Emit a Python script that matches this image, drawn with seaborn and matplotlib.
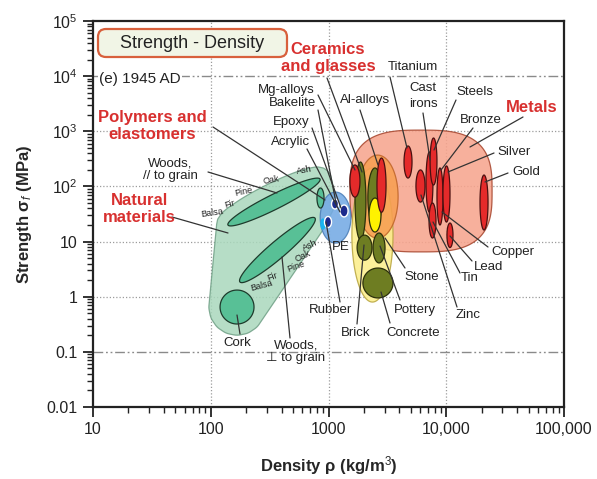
import numpy as np
import matplotlib
matplotlib.use("Agg")
import matplotlib.pyplot as plt
from matplotlib.patches import FancyBboxPatch
from matplotlib.ticker import NullFormatter
import seaborn as sns

# ---- values: density (kg/m^3) and strength (MPa) ranges ----
# family envelopes
env_names = ["Metals", "Non-technical ceramics", "Ceramics and glasses", "Polymers"]
env_rho = [(1520, 24500), (1580, 3530), (1750, 3900), (850, 1550)]
env_sig = [(6.5, 1050), (0.8, 216), (11.5, 370), (9.4, 79)]

# woods lie along a diagonal: two end points each
wood_names = ["Woods // grain", "Woods perp. grain"]
wood_start = [(140, 20), (177, 1.85)]
wood_end = [(847, 136), (767, 26.7)]

natural_names = ["Cork", "Bamboo"]
natural_rho = [(120, 233), (798, 916)]
natural_sig = [(0.32, 1.32), (40.6, 93.6)]

polymer_names = ["Rubber", "PE", "Bakelite", "Epoxy"]
polymer_rho = [(863, 933), (925, 1061), (1061, 1216), (1253, 1466)]
polymer_sig = [(16.9, 25.6), (18, 28.5), (39, 59), (28, 46)]

ceramic_names = ["Glass", "Porcelain", "Glass ceramic", "Brick", "Stone", "Concrete"]
ceramic_rho = [(1680, 2080), (2160, 2850), (2210, 2790), (1750, 2340), (2390, 3020), (1960, 3530)]
ceramic_sig = [(10.7, 277), (18.4, 216), (14.9, 61.6), (4.6, 13.1), (4.1, 14.3), (0.95, 3.31)]

metal_names = ["Mg-alloys", "Al-alloys", "Titanium", "Zinc", "Cast irons", "Steels",
               "Tin", "Bronze", "Silver", "Lead", "Gold"]
metal_rho = [(1520, 1850), (2580, 3080), (4380, 5120), (5530, 6600), (6730, 7710), (7290, 8340),
             (7140, 8180), (8340, 9380), (9380, 10760), (10140, 11410), (19350, 22630)]
metal_sig = [(64, 245), (34, 327), (142, 541), (52, 199), (34, 421), (106, 755),
             (11.6, 50), (20, 216), (22.6, 235), (7.8, 21.7), (16.2, 161)]

x_ticks = [10, 100, 1000, 1e4, 1e5]
x_labels = ["10", "100", "1000", "10,000", "100,000"]
y_ticks = [0.01, 0.1, 1, 10, 100, 1e3, 1e4, 1e5]
y_labels = ["0.01", "0.1", "1", "10", "$10^2$", "$10^3$", "$10^4$", "$10^5$"]

# ---- layout (pixels of the 597x479 canvas) ----
W, H = 597, 479
AX_L, AX_T, AX_R, AX_B = 93, 21, 564, 407

sns.set_theme(style="white")
plt.rcParams["font.family"] = ["Liberation Sans", "DejaVu Sans"]
plt.rcParams["mathtext.fontset"] = "custom"
plt.rcParams["mathtext.rm"] = "Liberation Sans"
plt.rcParams["mathtext.it"] = "Liberation Sans:italic"
plt.rcParams["mathtext.bf"] = "Liberation Sans:bold"

fig = plt.figure(figsize=(W / 100, H / 100), dpi=100)
ax = fig.add_axes([AX_L / W, 1 - AX_B / H, (AX_R - AX_L) / W, (AX_B - AX_T) / H])
ax.set_xscale("log")
ax.set_yscale("log")
ax.set_xlim(10, 1e5)
ax.set_ylim(0.01, 1e5)

# a decade of strength vs a decade of density on screen
Q = ((AX_B - AX_T) / 7) / ((AX_R - AX_L) / 4)
T = np.linspace(0, 2 * np.pi, 240)


def to_data(pts):
    return 10 ** pts[:, 0], 10 ** (pts[:, 1] / Q)


def box_pts(rho, sig, p=2.0):
    lx, ly = np.log10(rho), Q * np.log10(sig)
    cx, rx = lx.mean(), (lx[1] - lx[0]) / 2
    cy, ry = ly.mean(), (ly[1] - ly[0]) / 2
    c, s = np.cos(T), np.sin(T)
    x = cx + rx * np.sign(c) * np.abs(c) ** (2 / p)
    y = cy + ry * np.sign(s) * np.abs(s) ** (2 / p)
    return np.column_stack([x, y])


def diag_pts(p0, p1, width):
    a = np.array([np.log10(p0[0]), Q * np.log10(p0[1])])
    b = np.array([np.log10(p1[0]), Q * np.log10(p1[1])])
    c, u = (a + b) / 2, (b - a) / 2
    n = np.array([-u[1], u[0]])
    n = n / np.hypot(*n) * width / 2
    return c + np.cos(T)[:, None] * u + np.sin(T)[:, None] * n


def hull_pts(shapes, margin):
    ang = np.linspace(0, 2 * np.pi, 16, endpoint=False)
    ring = margin * np.column_stack([np.cos(ang), np.sin(ang)])
    pts = np.vstack([s[::4, None, :] + ring[None] for s in shapes]).reshape(-1, 2)
    pts = sorted(map(tuple, np.round(pts, 5)))

    def cross(o, a, b):
        return (a[0] - o[0]) * (b[1] - o[1]) - (a[1] - o[1]) * (b[0] - o[0])

    lower, upper = [], []
    for p in pts:
        while len(lower) >= 2 and cross(lower[-2], lower[-1], p) <= 0:
            lower.pop()
        lower.append(p)
    for p in reversed(pts):
        while len(upper) >= 2 and cross(upper[-2], upper[-1], p) <= 0:
            upper.pop()
        upper.append(p)
    return np.array(lower[:-1] + upper[:-1])


def cv(px, py):
    return (px - AX_L) / (AX_R - AX_L), (AX_B - py) / (AX_B - AX_T)


# grid
for v in [100, 1000, 1e4]:
    ax.axvline(v, color="#9c9c9c", lw=0.9, dashes=(1, 1.6), zorder=0.5)
for v in [1, 10, 100, 1000]:
    ax.axhline(v, color="#9c9c9c", lw=0.9, dashes=(1, 1.6), zorder=0.5)
for v in [0.1, 1e4]:
    ax.axhline(v, color="#8a8a8a", lw=1.0, dashes=(7, 2, 1.3, 2, 1.3, 2), zorder=0.5)

# envelopes
env_style = {"Metals": ("#f7a58e", "#a8472f", 3.0, 1.0),
             "Non-technical ceramics": ("#fcef8c", "#b9a640", 2.0, 1.2),
             "Ceramics and glasses": ("#f79f52", "#c0652a", 2.0, 1.3),
             "Polymers": ("#74aae4", "#4d7fb8", 2.0, 2.0)}
for name, r, s in zip(env_names, env_rho, env_sig):
    fc, ec, p, z = env_style[name]
    ax.fill(*to_data(box_pts(r, s, p)), fc=fc, ec=ec, lw=0.9, alpha=0.88, zorder=z)

wood_width = [0.127, 0.145]
natural_shapes = [diag_pts(p0, p1, w) for p0, p1, w in zip(wood_start, wood_end, wood_width)]
natural_shapes += [box_pts(r, s) for r, s in zip(natural_rho, natural_sig)]

# natural materials envelope drawn round its members
ax.fill(*to_data(hull_pts(natural_shapes, 0.095)), fc="#a9d8bc", ec="#6f9f85", lw=0.9,
        alpha=0.85, zorder=1)
for shp in natural_shapes:
    ax.fill(*to_data(shp), fc="#58c096", ec="#1e3b2c", lw=0.9, zorder=3)

for name, r, s in zip(polymer_names, polymer_rho, polymer_sig):
    fc = "#19b5f0" if name == "Rubber" else "#1c2a8c"
    ec = "#19b5f0" if name == "Rubber" else "white"
    ax.fill(*to_data(box_pts(r, s)), fc=fc, ec=ec, lw=1.0, zorder=3)

for name, r, s in zip(ceramic_names, ceramic_rho, ceramic_sig):
    fc = "#fff200" if name == "Glass ceramic" else "#6e7d22"
    ax.fill(*to_data(box_pts(r, s)), fc=fc, ec="#2b300a", lw=0.9, zorder=3)

for name, r, s in zip(metal_names, metal_rho, metal_sig):
    ax.fill(*to_data(box_pts(r, s)), fc="#e52a2a", ec="#4a1010", lw=0.9, zorder=3.2)

# labels and leader lines
RED = "#d8302f"
family_labels = [("Ceramics\nand glasses", 328, 58, (327, 78), (362, 172)),
                 ("Polymers and\nelastomers", 152, 126, (213, 127), (325, 200)),
                 ("Natural\nmaterials", 139, 209, (172, 217), (228, 233)),
                 ("Metals", 532, 107, (523, 117), (470, 147))]
mat_labels = [("Titanium", 413, 67, (390, 77), (407, 148)),
              ("Cast\nirons", 423, 96, (423, 113), (430, 160)),
              ("Steels", 475, 92, (456, 100), (434, 150)),
              ("Bronze", 481, 120, (473, 128), (441, 170)),
              ("Silver", 514, 152, (494, 153), (448, 172)),
              ("Gold", 526, 172, (508, 173), (485, 182)),
              ("Copper", 513, 252, (488, 247), (442, 212)),
              ("Lead", 489, 267, (472, 261), (450, 236)),
              ("Tin", 470, 278, (460, 273), (433, 222)),
              ("Zinc", 468, 315, (457, 307), (421, 195)),
              ("Stone", 422, 277, (405, 268), (385, 238)),
              ("Pottery", 415, 310, (400, 300), (380, 246)),
              ("Concrete", 413, 333, (390, 323), (381, 292)),
              ("Brick", 356, 333, (357, 324), (364, 245)),
              ("Rubber", 330, 310, (340, 302), (326, 222)),
              ("PE", 341, 247, None, None),
              ("Mg-alloys", 286, 90, (318, 95), (355, 170)),
              ("Bakelite", 292, 103, (318, 110), (336, 203)),
              ("Epoxy", 291, 122, (312, 128), (341, 208)),
              ("Acrylic", 291, 142, (307, 149), (340, 212)),
              ("Al-alloys", 365, 100, (360, 110), (378, 165)),
              ("Woods,\n// to grain", 170, 170, (208, 172), (277, 193)),
              ("Woods,\n\u22a5 to grain", 296, 352, (290, 338), (282, 257)),
              ("Cork", 237, 343, (240, 334), (237, 315))]
wood_labels = [("Oak", 271, 180, 10), ("Ash", 304, 170, 10), ("Pine", 244, 192, 12),
               ("Fir", 230, 204, 15), ("Balsa", 212, 213, 8),
               ("Ash", 310, 245, 25), ("Oak", 303, 256, 25), ("Pine", 296, 267, 20),
               ("Fir", 272, 277, 20), ("Balsa", 261, 286, 15)]

for text, tx, ty, a, b in family_labels:
    ax.plot(*zip(cv(*a), cv(*b)), color="#333333", lw=0.9, transform=ax.transAxes, zorder=4)
    ax.text(*cv(tx, ty), text, transform=ax.transAxes, ha="center", va="center",
            fontsize=12, fontweight="bold", color=RED, linespacing=1.1, zorder=5)

for text, tx, ty, a, b in mat_labels:
    if a is not None:
        ax.plot(*zip(cv(*a), cv(*b)), color="#333333", lw=0.9, transform=ax.transAxes, zorder=4)
    ls = 1.35 if text.startswith("Cast") else 1.05
    ax.text(*cv(tx, ty), text, transform=ax.transAxes, ha="center", va="center",
            fontsize=9.5, color="#222222", linespacing=ls, zorder=5)

for text, tx, ty, rot in wood_labels:
    ax.text(*cv(tx, ty), text, transform=ax.transAxes, ha="center", va="center",
            fontsize=6.5, color="#222222", rotation=rot, zorder=5)

ax.text(*cv(99, 79), "(e) 1945 AD", transform=ax.transAxes, ha="left", va="center",
        fontsize=11, color="#222222", zorder=5,
        bbox=dict(fc="white", ec="none", pad=1))

# title box
fig.add_artist(FancyBboxPatch((98 / 100, (H - 57) / 100), 1.89, 0.28,
                              boxstyle="round,pad=0,rounding_size=0.08",
                              transform=fig.dpi_scale_trans, fc="#f1f5e6",
                              ec="#d8603c", lw=1.6, zorder=6))
fig.text(192 / W, 1 - 43 / H, "Strength - Density", ha="center", va="center",
         fontsize=13, color="#222222", zorder=7)

# axes
ax.set_xticks(x_ticks, x_labels)
ax.set_yticks(y_ticks, y_labels)
ax.xaxis.set_minor_formatter(NullFormatter())
ax.yaxis.set_minor_formatter(NullFormatter())
ax.tick_params(which="major", direction="out", length=7, width=1.3, labelsize=11.5,
               pad=4, colors="#222222", bottom=True, left=True, top=False, right=False)
ax.tick_params(which="minor", direction="out", length=4, width=1.0,
               bottom=True, left=True, top=False, right=False, color="#222222")
for sp in ax.spines.values():
    sp.set_color("#222222")
    sp.set_linewidth(1.6)

ax.set_xlabel("Density \u03c1 (kg/m$^3$)", fontsize=12, fontweight="bold", labelpad=12)
ax.set_ylabel("Strength \u03c3$_f$ (MPa)", fontsize=12, fontweight="bold", labelpad=9)

fig.savefig("out.png", dpi=100)
